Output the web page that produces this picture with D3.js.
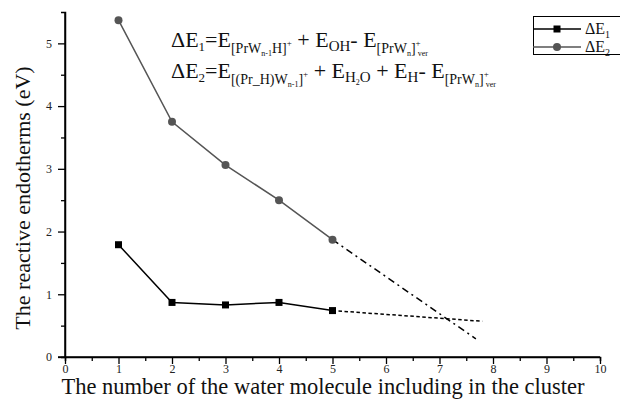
<!DOCTYPE html>
<html><head><meta charset="utf-8">
<script src="https://cdn.jsdelivr.net/npm/d3@7"></script>
<style>html,body{margin:0;padding:0;background:#fff;}svg{display:block;} text{font-family:"Liberation Serif","DejaVu Serif",serif !important;}</style>
</head><body>
<svg id="c" width="620" height="403"></svg>
<script>
// Data
const nWater = [1, 2, 3, 4, 5];
const dE1 = [1.79, 0.87, 0.83, 0.87, 0.74];
const dE2 = [5.37, 3.75, 3.06, 2.50, 1.87];
const trendX1 = [5, 7.8];
const trendY1 = [0.74, 0.57];
const trendX2 = [5, 7.68];
const trendY2 = [1.87, 0.29];
const xTicks = [0,1,2,3,4,5,6,7,8,9,10];
const yTicks = [0,1,2,3,4,5];
const seriesNames = ["ΔE", "ΔE"];
const seriesSubs = ["1", "2"];

const svg = d3.select("#c");
const x = d3.scaleLinear().domain([0, 10]).range([65, 600]);
const y = d3.scaleLinear().domain([0, 5.5]).range([357, 12]);

// axes
const gx = svg.append("g").attr("transform", "translate(0,357)");
gx.call(d3.axisBottom(x).tickValues(xTicks).tickSize(7).tickFormat(d3.format("d")));
gx.append("g").call(d3.axisBottom(x).tickValues(d3.range(0.5, 10, 1)).tickSize(4).tickFormat(""));
const gy = svg.append("g").attr("transform", "translate(65,0)");
gy.call(d3.axisLeft(y).tickValues(yTicks).tickSize(7).tickFormat(d3.format("d")));
gy.append("g").call(d3.axisLeft(y).tickValues(d3.range(0.5, 5.5, 1)).tickSize(4).tickFormat(""));
svg.selectAll(".domain").attr("stroke", "#000").attr("stroke-width", 1.5);
svg.selectAll(".tick line").attr("stroke", "#000").attr("stroke-width", 1.3);
svg.selectAll(".tick text").attr("font-size", 12).attr("fill", "#222");
gx.selectAll(".tick text").attr("y", 7);
gy.selectAll(".tick text").attr("x", -13);
gx.select(".domain").attr("d", `M${x(0)-7},0H${x(10)}`);
gy.select(".domain").attr("d", `M0,${y(0)}V${y(5.5)}`);

// axis titles
svg.append("text").attr("x", 323).attr("y", 394).attr("text-anchor", "middle")
  .attr("font-size", 22.5).attr("fill", "#111")
  .text("The number of the water molecule including in the cluster");
svg.append("text").attr("transform", "translate(30,198) rotate(-90)").attr("text-anchor", "middle")
  .attr("font-size", 22).attr("fill", "#111")
  .text("The reactive endotherms (eV)");

// trend lines
const line = d3.line().x(d => x(d[0])).y(d => y(d[1]));
svg.append("path").datum(d3.zip(trendX1, trendY1)).attr("d", line)
  .attr("fill", "none").attr("stroke", "#000").attr("stroke-width", 1.5).attr("stroke-dasharray", "3.5,2.5");
svg.append("path").datum(d3.zip(trendX2, trendY2)).attr("d", line)
  .attr("fill", "none").attr("stroke", "#000").attr("stroke-width", 1.5).attr("stroke-dasharray", "7,4,2,4");

// series
const c1 = "#000", c2 = "#555";
svg.append("path").datum(d3.zip(nWater, dE1)).attr("d", line)
  .attr("fill", "none").attr("stroke", c1).attr("stroke-width", 1.5);
svg.append("path").datum(d3.zip(nWater, dE2)).attr("d", line)
  .attr("fill", "none").attr("stroke", c2).attr("stroke-width", 1.5);
svg.selectAll(".m1").data(d3.zip(nWater, dE1)).join("rect")
  .attr("x", d => x(d[0]) - 3.5).attr("y", d => y(d[1]) - 3.5).attr("width", 7).attr("height", 7).attr("fill", c1);
svg.selectAll(".m2").data(d3.zip(nWater, dE2)).join("circle")
  .attr("cx", d => x(d[0])).attr("cy", d => y(d[1])).attr("r", 4).attr("fill", c2);

// legend
const lg = svg.append("g");
lg.append("rect").attr("x", 533.5).attr("y", 16.5).attr("width", 100).attr("height", 38)
  .attr("fill", "#fff").attr("stroke", "#000").attr("stroke-width", 1);
[[c1, 29, "rect"], [c2, 47, "circle"]].forEach((s, i) => {
  lg.append("line").attr("x1", 533).attr("x2", 581).attr("y1", s[1]).attr("y2", s[1])
    .attr("stroke", s[0]).attr("stroke-width", 1.5);
  if (s[2] === "rect") lg.append("rect").attr("x", 553.5).attr("y", s[1] - 3.5).attr("width", 7).attr("height", 7).attr("fill", s[0]);
  else lg.append("circle").attr("cx", 557).attr("cy", s[1]).attr("r", 4).attr("fill", s[0]);
  const t = lg.append("text").attr("x", 585).attr("y", s[1] + 5).attr("font-size", 16).attr("fill", "#111");
  t.append("tspan").text(seriesNames[i]);
  t.append("tspan").attr("font-size", 10).attr("dy", 4).text(seriesSubs[i]);
});

// equations
function rich(xp, yp, segs) {
  const t = svg.append("text").attr("x", xp).attr("y", yp).attr("fill", "#111").attr("xml:space", "preserve");
  let prev = 0;
  segs.forEach(s => {
    const ts = t.append("tspan").attr("font-size", s[1]).attr("dy", s[2] - prev).text(s[0]);
    if (s[3]) ts.attr("dx", s[3]);
    prev = s[2];
  });
}
rich(171, 47, [["ΔE",22,0],["1",13,4],["=E",22,0],["[PrW",14,6],["n-1",8,9],["H]",14,6],["+",9,-1],
  [" + E",22,0],["OH",15,4],["- E",22,0],["[PrW",14,6],["n",8,9],["]",14,6],["+",9,-1],["ver",8,9,-3]]);
rich(171, 78, [["ΔE",22,0],["2",13,4],["=E",22,0],["[(Pr_H)W",14,6],["n-1",8,9],["]",14,6],["+",9,-1],
  [" + E",22,0],["H",15,4],["2",8,7],["O",15,4],[" + E",22,0],["H",15,4],["- E",22,0],
  ["[PrW",14,6],["n",8,9],["]",14,6],["+",9,-1],["ver",8,9,-3]]);
</script>
</body></html>
